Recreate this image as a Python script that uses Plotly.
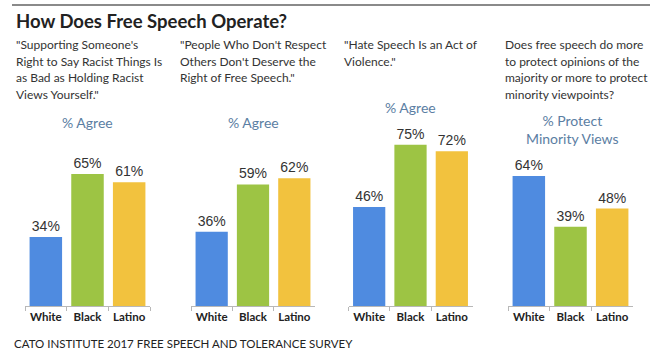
import plotly.graph_objects as go

# Survey results (% of respondents) by group
groups = ["White", "Black", "Latino"]
racist_speech_agree = [34, 65, 61]
no_respect_agree = [36, 59, 62]
hate_speech_violence_agree = [46, 75, 72]
protect_minority_views = [64, 39, 48]

panel_values = [racist_speech_agree, no_respect_agree,
                hate_speech_violence_agree, protect_minority_views]

panel_questions = [
    ["\"Supporting Someone's", "Right to Say Racist Things Is",
     "as Bad as Holding Racist", "Views Yourself.\""],
    ["\"People Who Don't Respect", "Others Don't Deserve the",
     "Right of Free Speech.\""],
    ["\"Hate Speech Is an Act of", "Violence.\""],
    ["Does free speech do more", "to protect opinions of the",
     "majority or more to protect", "minority viewpoints?"],
]
panel_measures = ["% Agree", "% Agree", "% Agree", "% Protect<br>Minority Views"]

title_text = "How Does Free Speech Operate?"
source_text = "CATO INSTITUTE 2017 FREE SPEECH AND TOLERANCE SURVEY"

W, H = 650, 352
bar_colors = ["#4f8be0", "#9dc444", "#f2c23e"]

# layout geometry (pixels)
x_spans = [(25, 150), (191, 315), (348.5, 472.5), (508, 633)]
y_tops = [101.5, 100, 95.8, 101.5]
plot_top_px, plot_base_px = 100, 306
question_x_px = [14, 178, 342, 503]
question_first_line_px, question_line_step_px = 44.5, 16.6
measure_pos_px = [(87.5, 123), (253, 123), (410.5, 107), (572, 129)]


def px_x(v):
    return v / W


def px_y(v):
    return 1 - v / H


fig = go.Figure()
layout_axes = {}
for i, vals in enumerate(panel_values):
    n = "" if i == 0 else str(i + 1)
    fig.add_trace(go.Bar(
        x=groups, y=vals,
        marker=dict(color=bar_colors, line=dict(width=0)),
        text=[f"{v}%" for v in vals],
        textposition="outside",
        cliponaxis=False,
        textfont=dict(family="Liberation Sans, Arial", size=14, color="#333333"),
        xaxis="x" + n, yaxis="y" + n,
        showlegend=False, hoverinfo="skip",
    ))
    layout_axes["xaxis" + n] = dict(
        domain=[px_x(x_spans[i][0]), px_x(x_spans[i][1])],
        anchor="y" + n,
        type="category",
        range=[-0.5, 2.5],
        showline=True, linecolor="#b8b8b8", linewidth=1,
        ticks="outside", tickson="boundaries", ticklen=4, tickcolor="#b8b8b8",
        tickfont=dict(family="Lato", size=11.5, color="#222222", weight="bold"),
        showgrid=False, zeroline=False, fixedrange=True,
    )
    layout_axes["yaxis" + n] = dict(
        domain=[px_y(plot_base_px), px_y(plot_top_px)],
        anchor="x" + n,
        range=[0, y_tops[i]],
        visible=False, showgrid=False, zeroline=False, fixedrange=True,
    )

annotations = [
    dict(text=f"<b>{title_text}</b>", x=px_x(14), y=px_y(21), xanchor="left",
         yanchor="middle", font=dict(family="Lato", size=18.5, color="#222222")),
    dict(text=source_text, x=px_x(12), y=px_y(343), xanchor="left",
         yanchor="middle", font=dict(family="Lato", size=11.5, color="#222222")),
]
for i in range(4):
    for j, line in enumerate(panel_questions[i]):
        annotations.append(dict(
            text=line, x=px_x(question_x_px[i]),
            y=px_y(question_first_line_px + j * question_line_step_px),
            xanchor="left", yanchor="middle", align="left",
            font=dict(family="Lato", size=12, color="#333333"),
        ))
    mx, my = measure_pos_px[i]
    annotations.append(dict(
        text=panel_measures[i], x=px_x(mx), y=px_y(my),
        xanchor="center", yanchor="middle", align="center",
        font=dict(family="Lato", size=14, color="#5b7ea3"),
    ))
for a in annotations:
    a.update(xref="paper", yref="paper", showarrow=False)

fig.update_layout(
    width=W, height=H,
    margin=dict(l=0, r=0, t=0, b=0),
    paper_bgcolor="white", plot_bgcolor="white",
    bargap=0.22,
    annotations=annotations,
    shapes=[dict(type="line", xref="paper", yref="paper",
                 x0=px_x(12), x1=1, y0=px_y(5), y1=px_y(5),
                 line=dict(color="#8a8a8a", width=2))],
    **layout_axes,
)

fig.write_html("out.html", config={"displayModeBar": False})
